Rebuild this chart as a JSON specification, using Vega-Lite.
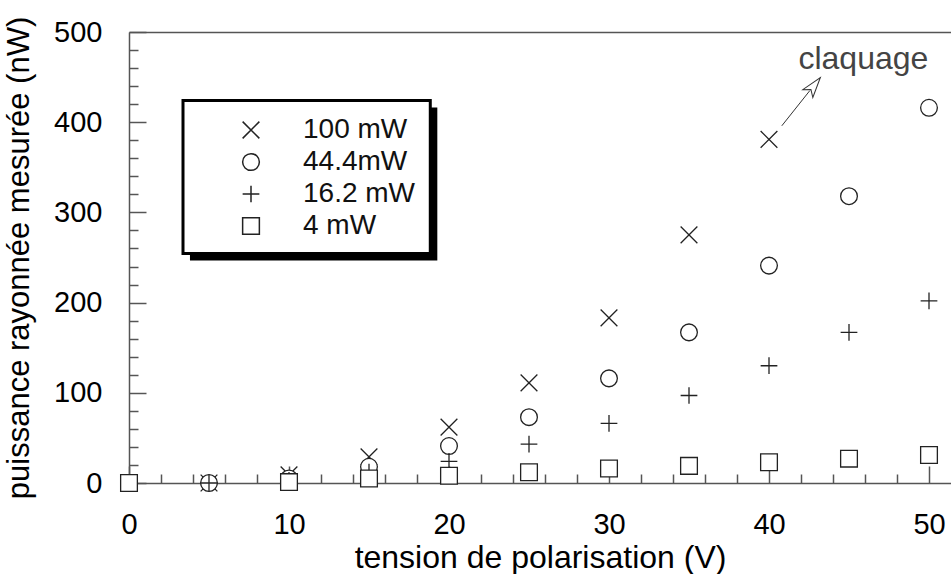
{
  "$schema": "https://vega.github.io/schema/vega-lite/v6.json",
  "width": 822,
  "height": 451,
  "autosize": "none",
  "padding": {"left": 129, "top": 32, "right": 0, "bottom": 91},
  "background": "white",
  "config": {
    "font": "Liberation Sans",
    "view": {"stroke": null},
    "axis": {"grid": false, "labelFlush": false, "labelFont": "Liberation Sans", "titleFont": "Liberation Sans", "labelColor": "#000", "titleColor": "#000", "titleFontWeight": "normal", "domainColor": "#555", "domainWidth": 1.5, "tickColor": "#555", "tickWidth": 1.5}
  },
  "datasets": {
    "pts": [
      {"V": 5, "P": 0, "serie": "100 mW"},
      {"V": 10, "P": 9, "serie": "100 mW"},
      {"V": 15, "P": 29, "serie": "100 mW"},
      {"V": 20, "P": 62, "serie": "100 mW"},
      {"V": 25, "P": 111, "serie": "100 mW"},
      {"V": 30, "P": 183, "serie": "100 mW"},
      {"V": 35, "P": 275, "serie": "100 mW"},
      {"V": 40, "P": 381, "serie": "100 mW"},
      {"V": 5, "P": 0, "serie": "44.4mW"},
      {"V": 10, "P": 5, "serie": "44.4mW"},
      {"V": 15, "P": 18, "serie": "44.4mW"},
      {"V": 20, "P": 41, "serie": "44.4mW"},
      {"V": 25, "P": 73, "serie": "44.4mW"},
      {"V": 30, "P": 116, "serie": "44.4mW"},
      {"V": 35, "P": 167, "serie": "44.4mW"},
      {"V": 40, "P": 241, "serie": "44.4mW"},
      {"V": 45, "P": 318, "serie": "44.4mW"},
      {"V": 50, "P": 416, "serie": "44.4mW"},
      {"V": 5, "P": 0, "serie": "16.2 mW"},
      {"V": 10, "P": 3, "serie": "16.2 mW"},
      {"V": 15, "P": 12, "serie": "16.2 mW"},
      {"V": 20, "P": 24, "serie": "16.2 mW"},
      {"V": 25, "P": 43, "serie": "16.2 mW"},
      {"V": 30, "P": 66, "serie": "16.2 mW"},
      {"V": 35, "P": 97, "serie": "16.2 mW"},
      {"V": 40, "P": 130, "serie": "16.2 mW"},
      {"V": 45, "P": 167, "serie": "16.2 mW"},
      {"V": 50, "P": 202, "serie": "16.2 mW"},
      {"V": 0, "P": 0, "serie": "4 mW"},
      {"V": 10, "P": 1, "serie": "4 mW"},
      {"V": 15, "P": 5, "serie": "4 mW"},
      {"V": 20, "P": 8, "serie": "4 mW"},
      {"V": 25, "P": 12, "serie": "4 mW"},
      {"V": 30, "P": 16, "serie": "4 mW"},
      {"V": 35, "P": 19, "serie": "4 mW"},
      {"V": 40, "P": 23, "serie": "4 mW"},
      {"V": 45, "P": 27, "serie": "4 mW"},
      {"V": 50, "P": 31, "serie": "4 mW"}
    ]
  },
  "layer": [
    {
      "data": {"values": [{}]},
      "mark": {"type": "rect", "fill": "#000"},
      "encoding": {
        "x": {"datum": 3.81, "type": "quantitative", "scale": {"domain": [0, 51.375], "nice": false}, "axis": null},
        "x2": {"datum": 19.27},
        "y": {"datum": 416.3, "type": "quantitative", "scale": {"domain": [0, 500], "nice": false}, "axis": null},
        "y2": {"datum": 246.7}
      }
    },
    {
      "data": {"values": [{}]},
      "mark": {"type": "rect", "fill": "#fff", "stroke": "#000", "strokeWidth": 3},
      "encoding": {
        "x": {"datum": 3.375, "type": "quantitative", "axis": null},
        "x2": {"datum": 18.83},
        "y": {"datum": 424.1, "type": "quantitative", "axis": null},
        "y2": {"datum": 254.4}
      }
    },
    {
      "data": {"values": [{}]},
      "mark": {"type": "rule", "stroke": "#333", "strokeWidth": 1},
      "encoding": {
        "x": {"datum": 40.8, "type": "quantitative", "axis": {"orient": "bottom", "values": [2,4,6,8,12,14,16,18,22,24,26,28,32,34,36,38,42,44,46,48], "tickSize": -9, "labels": false, "domain": false, "title": null}},
        "x2": {"datum": 42.55},
        "y": {"datum": 396, "type": "quantitative", "axis": {"orient": "left", "values": [20,40,60,80,120,140,160,180,220,240,260,280,320,340,360,380,420,440,460,480], "tickSize": -9, "labels": false, "domain": false, "title": null}},
        "y2": {"datum": 435}
      }
    },
    {
      "data": {"values": [{}]},
      "mark": {"type": "point", "shape": "M0,-1L0.5,0.6L0,0.2L-0.5,0.6Z", "size": 650, "angle": 38, "filled": true, "fill": "#fff", "stroke": "#333", "strokeWidth": 1, "opacity": 1},
      "encoding": {
        "x": {"datum": 42.72, "type": "quantitative", "axis": {"orient": "top", "ticks": false, "labels": false, "domain": true, "title": null}},
        "y": {"datum": 438.4, "type": "quantitative", "axis": null}
      }
    },
    {
      "data": {"values": [{}]},
      "mark": {"type": "text", "text": "claquage", "fontSize": 32, "color": "#444", "font": "Liberation Sans", "align": "center", "baseline": "middle"},
      "encoding": {
        "x": {"datum": 45.9, "type": "quantitative", "axis": null},
        "y": {"datum": 470.6, "type": "quantitative", "axis": null}
      }
    },
    {
      "data": {"name": "pts"},
      "mark": {"type": "point", "filled": true, "fill": "#fff", "stroke": "#222", "strokeWidth": 1.3, "size": 280, "opacity": 1},
      "encoding": {
        "x": {"field": "V", "type": "quantitative", "axis": {"orient": "bottom", "values": [0,10,20,30,40,50], "tickSize": -17, "labelPadding": 44, "labelFontSize": 29, "title": "tension de polarisation (V)", "titleFontSize": 32, "titlePadding": 3}},
        "y": {"field": "P", "type": "quantitative", "axis": {"orient": "left", "values": [0,100,200,300,400,500], "tickSize": -17, "labelPadding": 44, "labelFontSize": 29, "title": "puissance rayonnée mesurée (nW)", "titleFontSize": 31, "titlePadding": 18}},
        "shape": {
          "field": "serie", "type": "nominal",
          "scale": {"domain": ["100 mW", "44.4mW", "16.2 mW", "4 mW"], "range": ["M-1,-1L1,1M-1,1L1,-1", "circle", "M-1,0L1,0M0,-1L0,1", "square"]},
          "legend": {"title": null, "orient": "none", "legendX": 108, "legendY": 84, "padding": 0, "labelFontSize": 28, "labelColor": "#111", "labelFont": "Liberation Sans", "symbolSize": 280, "labelOffset": 38, "rowPadding": 4,
            "encode": {"symbols": {"update": {"fill": {"value": "#fff"}, "stroke": {"value": "#222"}, "strokeWidth": {"value": 1.3}, "opacity": {"value": 1}}}}}
        }
      }
    }
  ],
  "resolve": {"axis": {"x": "independent", "y": "independent"}}
}
